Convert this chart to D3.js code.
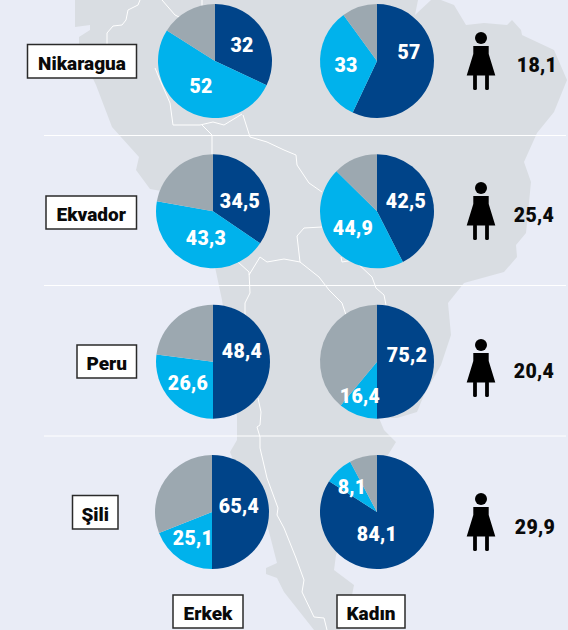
<!DOCTYPE html>
<html><head><meta charset="utf-8">
<script src="https://cdn.jsdelivr.net/npm/d3@7/dist/d3.min.js"></script>
<style>html,body{margin:0;padding:0;background:#e9ecf6}svg{display:block}text{font-family:Roboto,sans-serif;font-weight:900}</style>
</head><body><div id="c"></div>
<script>
const countries = ["Nikaragua","Ekvador","Peru","Şili"];
const genders = ["Erkek","Kadın"];
// printed labels
const erkekNavyLabel = ["32","34,5","48,4","65,4"];
const erkekBlueLabel = ["52","43,3","26,6","25,1"];
const kadinNavyLabel = ["57","42,5","75,2","84,1"];
const kadinBlueLabel = ["33","44,9","16,4","8,1"];
const femaleValues = ["18,1","25,4","20,4","29,9"];
// slice shares as drawn in the picture (some differ from the printed label)
const erkekNavy = [32,34.5,50,50];
const erkekBlue = [52,43.3,27,19];
const kadinNavy = [57,42.5,50,84.1];
const kadinBlue = [33,44.9,11,8.1];

const W=568,H=630,R=57;
const svg=d3.select("#c").append("svg").attr("width",W).attr("height",H);
svg.append("rect").attr("width",W).attr("height",H).attr("fill","#e9ecf6");

// base map
const land=[[75,0],[75,27],[90,25],[90,30],[79,37],[79,45],[85,62],[96,85],[112,127],[139,157],[136,170],[150,189],[178,194],[205,230],[215,267],[222,300],[228,340],[237,417],[237,440],[230,452],[245,490],[268,528],[277,563],[266,568],[266,574],[277,578],[284,592],[314,630],[340,630],[352,595],[354,585],[334,570],[336,555],[360,500],[396,442],[384,430],[379,418],[397,418],[417,412],[424,395],[441,365],[451,335],[448,303],[464,283],[504,272],[517,257],[516,245],[526,233],[531,182],[524,162],[537,133],[554,112],[567,80],[554,50],[522,35],[521,30],[512,20],[507,25],[484,23],[466,25],[454,5],[441,0],[431,0],[415,15],[418,0]];
const borders=[
[[140,0],[138,5],[128,10],[126,20],[122,25],[113,26],[107,33],[107,45]],
[[162,0],[175,15],[185,20]],
[[202,0],[202,8]],
[[155,68],[160,80],[170,103],[173,125],[200,125],[213,122],[224,125],[242,114]],
[[202,125],[212,135],[212,155]],
[[243,115],[250,137],[267,142],[284,150],[296,155],[297,165],[309,183],[322,192]],
[[322,227],[304,228],[297,236],[300,262],[284,259],[267,262],[260,257],[249,275]],
[[300,262],[319,277],[329,290],[342,303],[346,315]],
[[341,257],[342,262],[354,260],[372,277],[376,288],[384,295],[386,305]],
[[238,262],[249,272],[250,293],[245,303],[245,315]],
[[258,398],[261,412],[260,425],[257,427],[260,437],[260,448],[267,478],[278,508],[277,515],[284,528],[296,558],[304,580],[302,592],[314,617],[324,618],[327,630]]
];
const line=d3.line();
svg.append("path").attr("d",line(land)+"Z").attr("fill","#d9dde2");
svg.selectAll(".b").data(borders).join("path").attr("d",d=>line(d)).attr("fill","none").attr("stroke","#fff").attr("stroke-width",1);

// separators
svg.selectAll(".sep").data([135.5,285.5,436]).join("line")
 .attr("x1",44).attr("x2",566).attr("y1",d=>d).attr("y2",d=>d).attr("stroke","#fff").attr("stroke-width",1);

// scales
const y=d3.scalePoint().domain(countries).range([61,512]);
const x=d3.scalePoint().domain(genders).range([213,377]);
const colour=d3.scaleOrdinal().domain(["navy","blue","grey"]).range(["#004489","#00b2ec","#9ca8b0"]);
const arc=d3.arc().innerRadius(0).outerRadius(R);
const pie=d3.pie().sort(null).value(d=>d.v);

// layout: pie nudges and label offsets from the pie centre
const pieNudge={Erkek:[2,0,0,-1],"Kadın":[0,0,0,0]};
const labelOffs={
 Erkek:[[[27,-16],[-14,25]],[[27,-10],[-7,27]],[[29,-11],[-25,21]],[[27,-6],[-19,26]]],
 "Kadın":[[[32,-9],[-31,4]],[[29,-10],[-24,17]],[[30,-7],[-17,34]],[[0,22],[-25,-25]]]
};
const navyVals={Erkek:erkekNavy,"Kadın":kadinNavy}, blueVals={Erkek:erkekBlue,"Kadın":kadinBlue};
const navyLab={Erkek:erkekNavyLabel,"Kadın":kadinNavyLabel}, blueLab={Erkek:erkekBlueLabel,"Kadın":kadinBlueLabel};

countries.forEach((c,i)=>genders.forEach(g=>{
  const n=navyVals[g][i], b=blueVals[g][i];
  const cx=x(g)+pieNudge[g][i], cy=y(c);
  const G=svg.append("g").attr("transform",`translate(${cx},${cy})`);
  G.selectAll("path").data(pie([{k:"navy",v:n},{k:"blue",v:b},{k:"grey",v:100-n-b}])).join("path")
    .attr("d",arc).attr("fill",d=>colour(d.data.k));
  [navyLab[g][i],blueLab[g][i]].forEach((t,j)=>{
    const o=labelOffs[g][i][j];
    G.append("text").attr("x",o[0]).attr("y",o[1]).attr("dy","0.36em").attr("text-anchor","middle")
     .attr("font-size",19.5).attr("letter-spacing",0.3).attr("fill","#fff").text(t);
  });
}));

// name boxes
function box(t,x0,x1,y0,y1,fs){
  svg.append("rect").attr("x",x0).attr("y",y0).attr("width",x1-x0).attr("height",y1-y0)
    .attr("fill","#fff").attr("stroke","#2a2a2a").attr("stroke-width",1.5);
  svg.append("text").attr("x",(x0+x1)/2).attr("y",(y0+y1)/2+1.5).attr("dy","0.36em").attr("text-anchor","middle")
    .attr("font-size",fs).attr("fill","#0a0a0a").text(t);
}
const boxEdges=[[27.5,136.5,44.5,78],[46,136.5,196,229],[77,136.5,345,378],[72.5,118,495.5,529]];
countries.forEach((c,i)=>box(c,...boxEdges[i],19));
const legendEdges=[[173,243,595,628],[337,405,595,628]];
genders.forEach((g,i)=>box(g,...legendEdges[i],19));

// female icons and values
const iconY=[38,188,345,499], valPos=[[537,65],[534,215],[534,371],[535,527]];
const iconBody=d3.path();
iconBody.moveTo(473.3,46);iconBody.lineTo(488.7,46);iconBody.lineTo(488.7,54);iconBody.lineTo(495.3,75.5);
iconBody.lineTo(466.7,75.5);iconBody.lineTo(473.3,54);iconBody.closePath();
countries.forEach((c,i)=>{
  const g=svg.append("g").attr("transform",`translate(0,${iconY[i]-38})`);
  g.append("circle").attr("cx",481).attr("cy",38).attr("r",6).attr("fill","#000");
  g.append("path").attr("d",iconBody.toString()).attr("fill","#000");
  [475,487].forEach(px=>g.append("rect").attr("x",px-1.9).attr("y",74).attr("width",3.8).attr("height",16).attr("rx",1.5).attr("fill","#000"));
  svg.append("text").attr("x",valPos[i][0]).attr("y",valPos[i][1]).attr("dy","0.36em").attr("text-anchor","middle")
    .attr("font-size",19.5).attr("letter-spacing",0.3).attr("fill","#0a0a0a").text(femaleValues[i]);
});
</script></body></html>
